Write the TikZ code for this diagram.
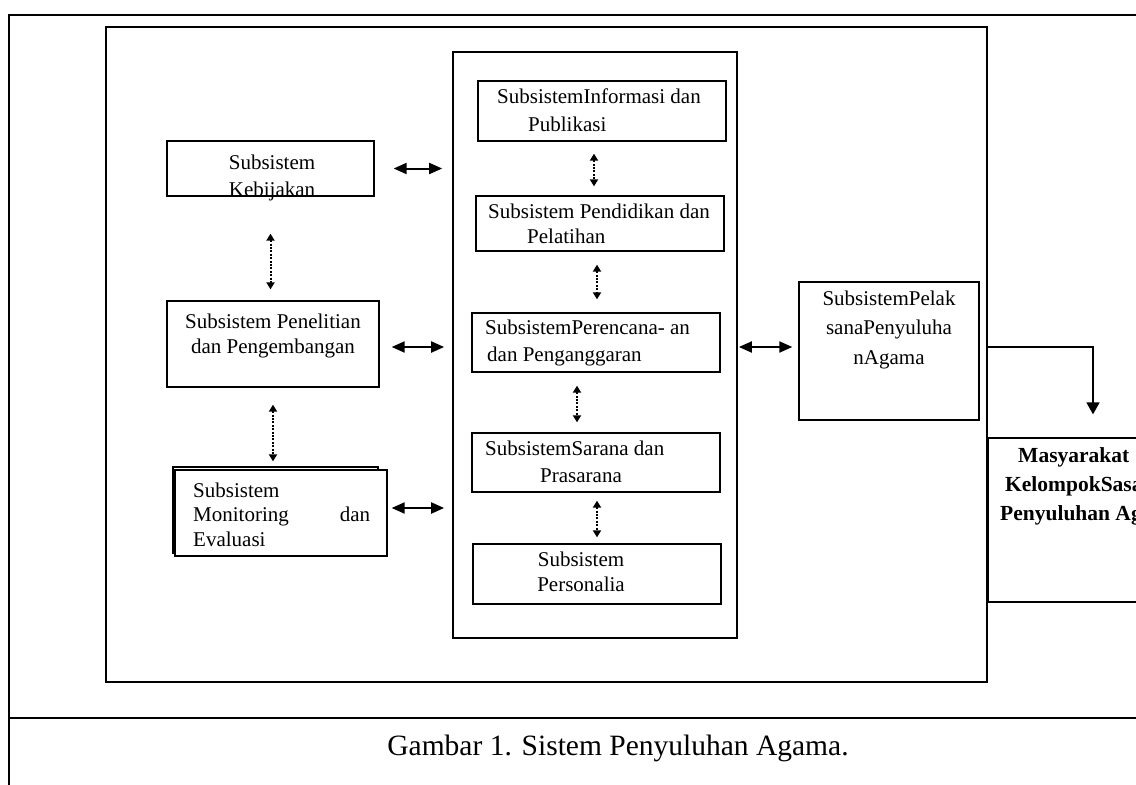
\documentclass[tikz,border=0pt]{standalone}
\usepackage{fontspec}
\setmainfont{Liberation Serif}
\usetikzlibrary{arrows.meta,calc,positioning}

\tikzset{
  sysbox/.style={draw,line width=1.3pt,fill=white,inner sep=0pt},
  framebox/.style={draw,line width=1.7pt,inner sep=0pt},
  boxlabel/.style={inner sep=0pt,font=\fontsize{21}{27}\selectfont},
  biarrow/.style={line width=2pt,{Triangle[length=13pt,width=11pt]}-{Triangle[length=13pt,width=11pt]}},
  dotarrow/.style={line width=2pt,dash pattern=on 2pt off 1.4pt,{Triangle[length=7pt,width=8pt]}-{Triangle[length=7pt,width=8pt]}},
  flowline/.style={line width=1.6pt,-{Triangle[length=12pt,width=13pt]}}
}

\begin{document}
\begin{tikzpicture}[x=1pt,y=-1pt]
\useasboundingbox (0,0) rectangle (1136,785);
\clip (0,0) rectangle (1136,785);

% Drawing page frame
\draw[line width=2pt] (1136,15) -- (9,15) -- (9,785);
\draw[line width=2pt] (9,718) -- (1136,718);

% Drawing outer frame and middle frame
\node[framebox,minimum width=881pt,minimum height=655pt] (frame) at (546.5,354.5) {};
\node[framebox,minimum width=284pt,minimum height=586pt] (mid) at (595,345) {};

% Drawing left column
\node[sysbox,minimum width=207pt,minimum height=55pt] (keb) at (270.5,168.5) {};
\node[boxlabel,align=center,anchor=base] (kebtext) at (272,196) {Subsistem\\Kebijakan};

\node[sysbox,minimum width=212pt,minimum height=86pt] (pen) at (273,344) {};
\node[boxlabel,font=\fontsize{21}{25}\selectfont,align=center,anchor=base] (pentext) at (273,353) {Subsistem Penelitian\\dan Pengembangan};

\node[sysbox,minimum width=205pt,minimum height=86pt] (monback) at (275.5,510) {};
\node[sysbox,minimum width=212pt,minimum height=86pt] (mon) at (281,513) {};
\node[boxlabel,font=\fontsize{21}{24.5}\selectfont,align=left,anchor=base west] (montext) at (193,546) {Subsistem\\\hbox to 177pt{Monitoring\hfill dan}\\Evaluasi};

% Drawing middle column
\node[sysbox,minimum width=248pt,minimum height=60pt] (inf) at (602,111) {};
\node[boxlabel,font=\fontsize{21}{28}\selectfont,align=left,anchor=base west] (inftext) at (497,131) {SubsistemInformasi dan\\\hspace*{31pt}Publikasi};

\node[sysbox,minimum width=248pt,minimum height=55pt] (pdd) at (600,223.5) {};
\node[boxlabel,font=\fontsize{21}{25}\selectfont,align=left,anchor=base west] (pddtext) at (488,243) {Subsistem Pendidikan dan\\\hspace*{39pt}Pelatihan};

\node[sysbox,minimum width=248pt,minimum height=59pt] (per) at (596,342.5) {};
\node[boxlabel,align=left,anchor=base west] (pertext) at (485,361) {SubsistemPerencana- an\\\hspace*{2pt}dan Penganggaran};

\node[sysbox,minimum width=248pt,minimum height=59pt] (sar) at (596,462.5) {};
\node[boxlabel,align=left,anchor=base west] (sartext) at (485,482) {SubsistemSarana dan\\\hspace*{55pt}Prasarana};

\node[sysbox,minimum width=248pt,minimum height=60pt] (pers) at (597,574) {};
\node[boxlabel,font=\fontsize{21}{25}\selectfont,align=center,anchor=base] (perstext) at (581,591) {Subsistem\\Personalia};

% Drawing right column
\node[sysbox,minimum width=180pt,minimum height=138pt] (pel) at (889,351) {};
\node[boxlabel,font=\fontsize{21}{29.5}\selectfont,align=center,anchor=base] (peltext) at (889,364) {SubsistemPelak\\sanaPenyuluha\\nAgama};

\node[sysbox,minimum width=210pt,minimum height=164pt] (mas) at (1093,520) {};
\node[boxlabel,font=\bfseries\fontsize{21.5}{29}\selectfont,align=left,anchor=base west] (mastext) at (1000,520) {\hspace*{18pt}Masyarakat\\\hspace*{5pt}KelompokSasaran\\Penyuluhan Agama};

% Marking arrow ends
\coordinate (penR) at ($(pen.east)+(0,3)$);
\coordinate (monR) at ($(mon.east)+(0,-5)$);
\coordinate (pelL) at ($(pel.west)+(0,-4)$);
\coordinate (infB) at ($(inf.south)+(-8,0)$);
\coordinate (pddB) at ($(pdd.south)+(-3,0)$);
\coordinate (perB) at ($(per.south)+(-19,0)$);
\coordinate (sarB) at ($(sar.south)+(1,0)$);

% Drawing arrows left column to middle frame
\draw[biarrow,shorten <=19pt,shorten >=10pt] (keb.east) -- (keb.east -| mid.west);
\draw[biarrow,shorten <=12pt,shorten >=8pt] (penR) -- (penR -| mid.west);
\draw[biarrow,shorten <=4pt,shorten >=8pt] (monR) -- (monR -| mid.west);

% Drawing arrow middle frame to Pelaksana
\draw[biarrow,shorten <=1pt,shorten >=6pt] (pelL -| mid.east) -- (pelL);

% Drawing dotted arrows
\draw[dotarrow,shorten <=37pt,shorten >=11pt] (keb.south) -- (keb.south |- pen.north);
\draw[dotarrow,shorten <=17pt,shorten >=5pt] (pen.south) -- (pen.south |- monback.north);
\draw[dotarrow,shorten <=12pt,shorten >=9pt] (infB) -- (infB |- pdd.north);
\draw[dotarrow,shorten <=13pt,shorten >=13pt] (pddB) -- (pddB |- per.north);
\draw[dotarrow,shorten <=13pt,shorten >=10pt] (perB) -- (perB |- sar.north);
\draw[dotarrow,shorten <=8pt,shorten >=6pt] (sarB) -- (sarB |- pers.north);

% Drawing line Pelaksana to Masyarakat
\draw[flowline,shorten >=23pt] (pelL -| frame.east) -| (mas.north);

% Marking caption
\node[font=\fontsize{29.5}{35}\selectfont,anchor=base] (caption) at (618,755) {Gambar 1. Sistem Penyuluhan Agama.};
\end{tikzpicture}
\end{document}
